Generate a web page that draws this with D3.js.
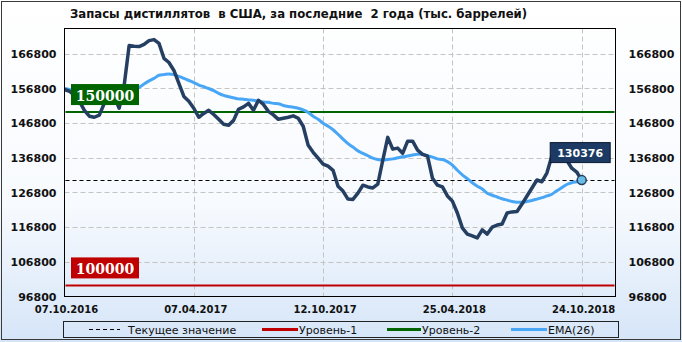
<!DOCTYPE html>
<html>
<head>
<meta charset="utf-8">
<script src="https://cdn.jsdelivr.net/npm/d3@7"></script>
<style>
  html, body { margin: 0; padding: 0; background: #fff; }
  svg { display: block; }
  svg text { white-space: pre; }
</style>
</head>
<body>
<svg id="chart" width="682" height="342"></svg>
<script>
'use strict';

// Weekly distillate stocks, thousand barrels
var stocks = [
    156500, 156000, 154800, 153100, 150500, 148800, 148500, 149100, 152500, 154200,
    154500, 151100, 157700, 169200, 169000, 168900, 169500, 170600, 170900, 169800,
    165500, 164300, 162000, 158300, 154500, 153100, 151100, 148500, 149600, 150500,
    149300, 147900, 146500, 146200, 147600, 150800, 151500, 152500, 150500, 153400,
    152200, 150200, 149200, 147900, 148200, 148500, 148900, 148200, 145900, 140400,
    138400, 136700, 135000, 134400, 133200, 128600, 127200, 124900, 124800, 126600,
    128900, 128400, 128100, 129200, 136100, 142700, 139300, 139600, 138100, 141600,
    141600, 139000, 137800, 137300, 130900, 128900, 128400, 125800, 124300, 120900,
    116600, 114800, 114300, 113700, 116000, 114800, 116800, 117400, 117700, 120900,
    121200, 121300, 123500, 125800, 128100, 130400, 129900, 132400, 137300, 139600,
    139000, 136100, 133800, 132700, 130376
];

// EMA(26) as drawn on the picture
var ema26 = [
    156800, 156500, 156200, 156000, 155700, 155400, 155100, 154800, 154800, 154800,
    154800, 154800, 155100, 155700, 156200, 157100, 158100, 159000, 159700, 160600,
    160800, 161000, 160800, 160300, 159700, 159100, 158500, 157800, 157300, 156800,
    156200, 155400, 154800, 154400, 154100, 153800, 153700, 153500, 153400, 153100,
    152900, 152800, 152500, 152400, 151900, 151600, 151400, 151100, 150600, 149900,
    148800, 147900, 146800, 145900, 144900, 143600, 142200, 140900, 139900, 138800,
    138100, 137400, 136700, 136300, 136100, 136300, 136500, 136800, 137100, 137300,
    137600, 137800, 137800, 137400, 137000, 136500, 136300, 135700, 134700, 133200,
    131900, 130800, 129600, 128600, 127800, 126600, 126000, 125500, 125000, 124600,
    124200, 124000, 124000, 124200, 124500, 124900, 125300, 125800, 126300, 127300,
    128200, 129100, 129600, 129900, 130200
];

var y_ticks = [96800, 106800, 116800, 126800, 136800, 146800, 156800, 166800];
var x_tick_index = [0, 26, 52, 78, 104];
var x_tick_labels = ["07.10.2016", "07.04.2017", "12.10.2017", "25.04.2018", "24.10.2018"];

var level_1 = 100000;
var level_2 = 150000;
var current_value = stocks[stocks.length - 1];

var title = "Запасы дистиллятов  в США, за последние  2 года (тыс. баррелей)";
var legend_labels = ["Текущее значение", "Уровень-1", "Уровень-2", "EMA(26)"];

var colors = {
    stocks: "#253f62",
    ema: "#48a6f6",
    level_1: "#c00000",
    level_2: "#006400",
    grid: "#c4c4c4",
    marker_fill: "#69bde6",
};

var width = 682, height = 342;
var plot = {left: 64.5, right: 615.5, top: 28.5, bottom: 296.5};

var svg = d3.select("#chart");

// background: white fading into light blue
var grad = svg.append("defs").append("linearGradient")
    .attr("id", "bg")
    .attr("x1", 0).attr("y1", 0).attr("x2", 0).attr("y2", 1);
grad.append("stop").attr("offset", "0%").attr("stop-color", "#ffffff");
grad.append("stop").attr("offset", "60%").attr("stop-color", "#f7fafe");
grad.append("stop").attr("offset", "100%").attr("stop-color", "#d5e5f8");

svg.append("rect")
    .attr("x", 0).attr("y", 0)
    .attr("width", width).attr("height", height)
    .attr("fill", "url(#bg)");

svg.append("rect")
    .attr("x", 1.5).attr("y", 1.5)
    .attr("width", width - 3).attr("height", height - 4)
    .attr("fill", "none")
    .attr("stroke", "#3a3a3a")
    .attr("stroke-width", 1);

var x = d3.scaleLinear()
    .domain([0, 104])
    .range([plot.left, 581.7]);

var y = d3.scaleLinear()
    .domain([96800, 174100])
    .range([plot.bottom, plot.top]);

// title
svg.append("text")
    .attr("x", 70)
    .attr("y", 18)
    .attr("font-family", "'DejaVu Sans Condensed', 'DejaVu Sans'")
    .attr("font-weight", "bold")
    .attr("font-size", "13px")
    .attr("fill", "#111")
    .text(title);

// grid
var grid = svg.append("g");
grid.selectAll("line.h")
    .data(y_ticks.slice(1))
    .join("line")
    .attr("class", "h")
    .attr("x1", plot.left).attr("x2", plot.right)
    .attr("y1", d => Math.round(y(d)) + 0.5)
    .attr("y2", d => Math.round(y(d)) + 0.5)
    .attr("stroke", colors.grid)
    .attr("stroke-dasharray", "5,3");

grid.selectAll("line.v")
    .data(x_tick_index.slice(1))
    .join("line")
    .attr("class", "v")
    .attr("y1", plot.top).attr("y2", plot.bottom)
    .attr("x1", d => Math.round(x(d)) + 0.5)
    .attr("x2", d => Math.round(x(d)) + 0.5)
    .attr("stroke", colors.grid)
    .attr("stroke-dasharray", "5,3");

// y axes on both sides
var axis_font = "'DejaVu Sans', Verdana, sans-serif";

var left_axis = d3.axisLeft(y).tickValues(y_ticks).tickFormat(d3.format("d")).tickSize(0).tickPadding(8);
var right_axis = d3.axisRight(y).tickValues(y_ticks).tickFormat(d3.format("d")).tickSize(0).tickPadding(13);

[svg.append("g").attr("transform", "translate(" + plot.left + ",0)").call(left_axis),
 svg.append("g").attr("transform", "translate(" + plot.right + ",0)").call(right_axis)]
    .forEach(function(g) {
        g.select(".domain").remove();
        g.selectAll("text")
            .attr("font-family", axis_font)
            .attr("font-weight", "bold")
            .attr("font-size", "11px")
            .attr("fill", "#111");
    });

// x axis labels
svg.append("g")
    .selectAll("text")
    .data(x_tick_index)
    .join("text")
    .attr("x", (d, i) => x(d) + 2)
    .attr("y", 313)
    .attr("text-anchor", "middle")
    .attr("font-family", axis_font)
    .attr("font-weight", "bold")
    .attr("font-size", "10px")
    .attr("fill", "#111")
    .text((d, i) => x_tick_labels[i]);

// level lines
function draw_level_line(value, color) {
    svg.append("line")
        .attr("x1", plot.left + 1).attr("x2", plot.right - 1)
        .attr("y1", y(value)).attr("y2", y(value))
        .attr("stroke", color)
        .attr("stroke-width", 2);
}
draw_level_line(level_2, colors.level_2);
draw_level_line(level_1, colors.level_1);

// current value line
svg.append("line")
    .attr("x1", plot.left + 1).attr("x2", plot.right - 1)
    .attr("y1", Math.round(y(current_value)) + 0.5)
    .attr("y2", Math.round(y(current_value)) + 0.5)
    .attr("stroke", "#000")
    .attr("stroke-dasharray", "4,3");

var line = d3.line()
    .x((d, i) => x(i))
    .y(d => y(d));

svg.append("path")
    .datum(ema26)
    .attr("d", line.curve(d3.curveMonotoneX))
    .attr("fill", "none")
    .attr("stroke", colors.ema)
    .attr("stroke-width", 3);

svg.append("path")
    .datum(stocks)
    .attr("d", line.curve(d3.curveLinear))
    .attr("fill", "none")
    .attr("stroke", colors.stocks)
    .attr("stroke-width", 3.5)
    .attr("stroke-linejoin", "round");

// level tags sit over the lines
function draw_level_tag(value, color) {
    var ly = y(value);
    svg.append("rect")
        .attr("x", 71).attr("y", ly - 28)
        .attr("width", 68).attr("height", 21)
        .attr("fill", color);

    svg.append("text")
        .attr("x", 105).attr("y", ly - 11.5)
        .attr("text-anchor", "middle")
        .attr("font-family", "'DejaVu Serif', serif")
        .attr("font-weight", "bold")
        .attr("font-size", "14px")
        .attr("fill", "#fff")
        .text(d3.format("d")(value));
}
draw_level_tag(level_2, colors.level_2);
draw_level_tag(level_1, colors.level_1);

// last point marker + value tag
var last_i = stocks.length - 1;
svg.append("circle")
    .attr("cx", x(last_i)).attr("cy", y(current_value))
    .attr("r", 4.5)
    .attr("fill", colors.marker_fill)
    .attr("stroke", colors.stocks)
    .attr("stroke-width", 1.5);

svg.append("rect")
    .attr("x", x(last_i) - 31.5).attr("y", y(current_value) - 37.5)
    .attr("width", 60).attr("height", 20)
    .attr("fill", "#1c3a63")
    .attr("stroke", "#0b1a30");

svg.append("text")
    .attr("x", x(last_i) - 1.5).attr("y", y(current_value) - 23.5)
    .attr("text-anchor", "middle")
    .attr("font-family", axis_font)
    .attr("font-weight", "bold")
    .attr("font-size", "11px")
    .attr("fill", "#fff")
    .text(d3.format("d")(current_value));

// plot frame
svg.append("rect")
    .attr("x", plot.left).attr("y", plot.top)
    .attr("width", plot.right - plot.left)
    .attr("height", plot.bottom - plot.top)
    .attr("fill", "none")
    .attr("stroke", "#000");

// legend
var legend = svg.append("g");
legend.append("rect")
    .attr("x", 63.5).attr("y", 321.5)
    .attr("width", 555).attr("height", 16)
    .attr("fill", "none")
    .attr("stroke", "#222");

var legend_items = [
    {x: 89, w: 31, color: "#000", dash: "4,3", sw: 1},
    {x: 262, w: 36, color: colors.level_1, dash: null, sw: 3},
    {x: 387, w: 34, color: colors.level_2, dash: null, sw: 3},
    {x: 511, w: 36, color: colors.ema, dash: null, sw: 3},
];

legend.selectAll("line")
    .data(legend_items)
    .join("line")
    .attr("x1", d => d.x).attr("x2", d => d.x + d.w)
    .attr("y1", 329.5).attr("y2", 329.5)
    .attr("stroke", d => d.color)
    .attr("stroke-width", d => d.sw)
    .attr("stroke-dasharray", d => d.dash);

legend.selectAll("text")
    .data(legend_items)
    .join("text")
    .attr("x", (d, i) => d.x + d.w + (i == 0 ? 8 : 1))
    .attr("y", 333.5)
    .attr("font-family", axis_font)
    .attr("font-size", "11px")
    .attr("fill", "#111")
    .text((d, i) => legend_labels[i]);
</script>
</body>
</html>
